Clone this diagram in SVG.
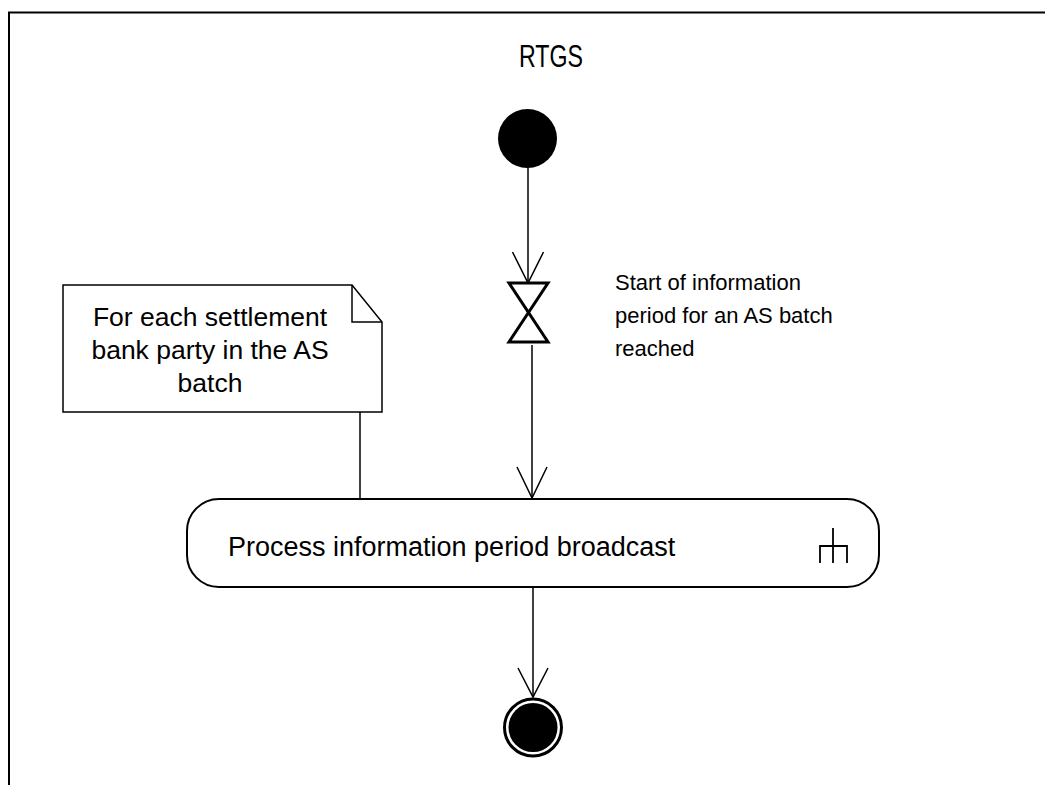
<svg xmlns="http://www.w3.org/2000/svg" width="1045" height="785" viewBox="0 0 1045 785">
<style>
.ln{stroke:#000;stroke-width:1.5;fill:none}
.t{font-family:"Liberation Sans",Arial,sans-serif;fill:#000}
</style>
<rect x="0" y="0" width="1045" height="785" fill="#fff"/>
<g id="frame">
<path d="M9,800 L9,12.5 L1060,12.5" fill="none" stroke="#000" stroke-width="2"/>
<text class="t" x="519" y="67" font-size="31" textLength="64" lengthAdjust="spacingAndGlyphs">RTGS</text>
</g>
<g id="connectors">
<line class="ln" x1="528" y1="168" x2="528" y2="283"/>
<polyline class="ln" points="512.5,252 528,283 543.5,252"/>
<line class="ln" x1="532" y1="345" x2="532" y2="498"/>
<polyline class="ln" points="517,467 532,498 547,467"/>
<line class="ln" x1="533" y1="588" x2="533" y2="697"/>
<polyline class="ln" points="518,668 533,697 548,668"/>
<line class="ln" x1="360" y1="412" x2="360" y2="499"/>
</g>
<g id="initial">
<circle cx="527.5" cy="138.5" r="29.5" fill="#000"/>
</g>
<g id="accept-event">
<polygon points="509,283 548,283 509,342 548,342" fill="#fff" stroke="#000" stroke-width="3" stroke-linejoin="miter"/>
<text class="t" font-size="22"><tspan x="615" y="290">Start of information</tspan><tspan x="615" y="323">period for an AS batch</tspan><tspan x="615" y="356">reached</tspan></text>
</g>
<g id="note">
<path d="M63,285 L352,285 L382,322 L382,412 L63,412 Z" fill="#fff" stroke="#000" stroke-width="1.5"/>
<path d="M352,285 L352,322 L382,322" fill="none" stroke="#000" stroke-width="1.5"/>
<text class="t" font-size="26.5" text-anchor="middle"><tspan x="210" y="326">For each settlement</tspan><tspan x="210" y="359">bank party in the AS</tspan><tspan x="210" y="392">batch</tspan></text>
</g>
<g id="action">
<rect x="187" y="499" width="692" height="88" rx="32" ry="32" fill="#fff" stroke="#000" stroke-width="2"/>
<text class="t" x="228" y="556" font-size="27">Process information period broadcast</text>
<path d="M833,528 L833,563 M820,563 L820,546 L847,546 L847,563" fill="none" stroke="#000" stroke-width="1.8"/>
</g>
<g id="final">
<circle cx="533" cy="727.5" r="28.5" fill="#fff" stroke="#000" stroke-width="3"/>
<circle cx="533" cy="727.5" r="24.5" fill="#000"/>
</g>
</svg>
